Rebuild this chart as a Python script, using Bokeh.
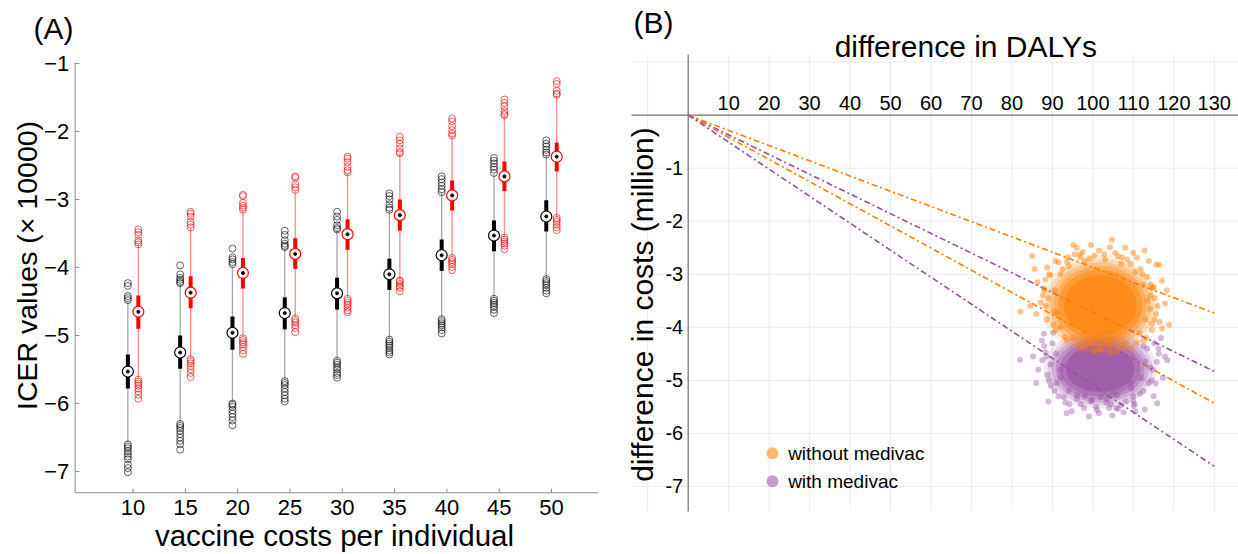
import numpy as np
from bokeh.plotting import figure
from bokeh.models import Range1d, Label
from bokeh.layouts import row
from bokeh.embed import file_html
from bokeh.resources import INLINE
from bokeh.core.properties import value

FONT = "Liberation Sans"

# ---------------- Panel A data (ICER values, x 10000) ----------------
costs = [10, 15, 20, 25, 30, 35, 40, 45, 50]

blk_med = [-5.53, -5.25, -4.96, -4.67, -4.38, -4.10, -3.82, -3.53, -3.25]
blk_q3 = [-5.28, -5.00, -4.72, -4.44, -4.15, -3.87, -3.59, -3.31, -3.01]
blk_q1 = [-5.78, -5.49, -5.21, -4.91, -4.62, -4.33, -4.05, -3.76, -3.47]
blk_whi = [-4.50, -4.25, -3.98, -3.73, -3.45, -3.17, -2.90, -2.62, -2.35]
blk_wlo = [-6.57, -6.28, -5.98, -5.65, -5.35, -5.04, -4.74, -4.45, -4.16]
blk_out_hi = [
    [-4.23, -4.27, -4.42, -4.45, -4.48],
    [-3.97, -4.10, -4.15, -4.18, -4.21, -4.23],
    [-3.72, -3.85, -3.88, -3.92, -3.95],
    [-3.46, -3.52, -3.60, -3.65, -3.68, -3.70],
    [-3.18, -3.25, -3.30, -3.38, -3.42, -3.44],
    [-2.91, -2.95, -3.00, -3.07, -3.12, -3.15],
    [-2.66, -2.70, -2.75, -2.80, -2.85, -2.89],
    [-2.39, -2.43, -2.47, -2.52, -2.56, -2.61],
    [-2.13, -2.18, -2.22, -2.27, -2.31, -2.34],
]
blk_out_lo = [
    [-6.60, -6.63, -6.66, -6.70, -6.74, -6.78, -6.82, -6.90, -6.95, -7.01],
    [-6.30, -6.33, -6.36, -6.40, -6.45, -6.50, -6.55, -6.60, -6.68],
    [-6.00, -6.02, -6.05, -6.10, -6.15, -6.20, -6.25, -6.32],
    [-5.67, -5.70, -5.73, -5.78, -5.83, -5.88, -5.93, -5.97],
    [-5.37, -5.40, -5.43, -5.47, -5.50, -5.55, -5.58, -5.62],
    [-5.06, -5.09, -5.12, -5.15, -5.18, -5.22, -5.25, -5.28],
    [-4.76, -4.79, -4.82, -4.85, -4.88, -4.92, -4.97],
    [-4.46, -4.49, -4.52, -4.55, -4.58, -4.62, -4.67],
    [-4.17, -4.20, -4.23, -4.26, -4.30, -4.34, -4.38],
]

red_med = [-4.65, -4.37, -4.08, -3.80, -3.51, -3.23, -2.94, -2.66, -2.37]
red_q3 = [-4.41, -4.13, -3.86, -3.57, -3.29, -3.00, -2.72, -2.44, -2.16]
red_q1 = [-4.90, -4.60, -4.31, -4.02, -3.74, -3.46, -3.16, -2.88, -2.59]
red_whi = [-3.66, -3.42, -3.16, -2.88, -2.61, -2.33, -2.07, -1.76, -1.47]
red_wlo = [-5.62, -5.33, -5.02, -4.73, -4.44, -4.18, -3.85, -3.55, -3.26]
red_out_hi = [
    [-3.44, -3.48, -3.52, -3.60, -3.63, -3.66],
    [-3.18, -3.21, -3.25, -3.33, -3.37, -3.41],
    [-2.93, -2.95, -3.05, -3.09, -3.12, -3.15],
    [-2.66, -2.68, -2.78, -2.82, -2.86],
    [-2.37, -2.40, -2.45, -2.52, -2.57, -2.60],
    [-2.08, -2.13, -2.18, -2.25, -2.30, -2.32],
    [-1.81, -1.85, -1.92, -1.98, -2.03, -2.06],
    [-1.53, -1.58, -1.63, -1.70, -1.74, -1.76],
    [-1.26, -1.30, -1.40, -1.44, -1.46],
]
red_out_lo = [
    [-5.65, -5.68, -5.71, -5.74, -5.78, -5.82, -5.87, -5.93],
    [-5.35, -5.38, -5.41, -5.45, -5.50, -5.55, -5.61],
    [-5.04, -5.07, -5.10, -5.13, -5.17, -5.22, -5.27],
    [-4.75, -4.78, -4.81, -4.85, -4.89, -4.95],
    [-4.46, -4.49, -4.52, -4.55, -4.59, -4.63, -4.66],
    [-4.19, -4.21, -4.24, -4.27, -4.30, -4.35],
    [-3.86, -3.89, -3.92, -3.95, -3.99, -4.04],
    [-3.56, -3.59, -3.62, -3.65, -3.68, -3.73],
    [-3.27, -3.30, -3.33, -3.37, -3.41, -3.45],
]
icer_ticks = [-7, -6, -5, -4, -3, -2, -1]
icer_axis_x = 4.46        # where the y axis crosses (vaccine cost)
icer_axis_y = -7.313      # where the x axis crosses (ICER)
icer_x_lim = [4.46, 54.46]
icer_y_lim = [-7.313, -0.985]

# ---------------- Panel B data ----------------
daly_ticks = [10, 20, 30, 40, 50, 60, 70, 80, 90, 100, 110, 120, 130]
cost_ticks = [-1, -2, -3, -4, -5, -6, -7]
grid_x = [-10, 10, 20, 30, 40, 50, 60, 70, 80, 90, 100, 110, 120, 130]
grid_y = [1, -1, -2, -3, -4, -5, -6, -7]
daly_lim = [-14.01, 135.9]
cost_lim = [-7.471, 1.143]
line_end_daly = 130
line_end_cost = [-3.73, -4.83, -5.43, -6.62]
line_group = ["without", "with", "without", "with"]

# dense cores of the two clouds (centre, widths, heights of density levels)
orange_core_x, orange_core_y = 101.8, -3.58
orange_core_w = [29.0, 27.0, 25.0, 23.0, 21.0, 18.0]
orange_core_h = [1.90, 1.76, 1.62, 1.48, 1.33, 1.12]
purple_core_x, purple_core_y = 101.8, -4.78
purple_core_w = [28.0, 26.0, 24.0, 22.0, 20.0, 17.0]
purple_core_h = [1.50, 1.39, 1.28, 1.16, 1.04, 0.88]
core_alpha = [0.12, 0.18, 0.24, 0.32, 0.42, 0.55]

# scattered points at the edges of the clouds
orange_x = [85.0, 82.1, 104.2, 96.9, 100.4, 110.9, 115.7, 117.1, 114.2, 117.1, 87.9, 87.1, 89.5, 93.6,
            107.2, 113.4, 114.6, 91.2, 88.7, 114.2, 116.4, 90.5, 92.0, 94.0, 98.0, 103.0, 107.0, 110.5,
            112.5, 113.5, 113.0, 111.5, 108.0, 104.0, 99.0, 95.0, 92.0, 90.5, 89.0, 115.0,
            92.5, 95.5, 97.5, 101.5, 105.5, 108.5, 111.8, 114.8, 116.0, 115.3, 112.5, 109.5, 106.0, 102.0,
            97.5, 93.5, 90.8, 88.6, 87.6, 88.3, 91.5, 99.5, 110.0, 113.8, 116.5, 86.3, 84.5, 118.3, 96.0, 104.7,
            89.2, 90.8, 93.8, 96.8, 99.2, 102.8, 106.2, 109.3, 112.2, 114.3, 115.2, 115.6, 114.6, 113.2,
            110.8, 107.5, 104.3, 100.5, 96.5, 93.0, 90.3, 88.4, 88.0, 86.0, 117.8, 95.2, 108.0, 112.8,
            85.6, 118.8]
orange_y = [-2.65, -3.70, -2.49, -2.68, -2.65, -2.69, -2.82, -3.12, -3.65, -4.02, -3.27, -3.53, -3.02, -2.77,
            -2.68, -3.05, -3.93, -3.74, -2.87, -3.40, -2.82, -3.30, -3.00, -2.85, -2.75, -2.72, -2.80, -2.95,
            -3.20, -3.50, -3.85, -4.10, -4.30, -4.35, -4.30, -4.20, -4.00, -3.70, -3.45, -3.25,
            -2.90, -2.62, -2.58, -2.55, -2.60, -2.72, -2.90, -3.25, -3.60, -3.85, -4.25, -4.40, -4.45, -4.42,
            -4.38, -4.25, -4.05, -3.85, -3.40, -3.10, -2.78, -2.45, -2.60, -2.75, -3.90, -3.15, -3.60, -3.30,
            -2.50, -2.35,
            -3.00, -2.75, -2.68, -2.62, -2.70, -2.62, -2.66, -2.80, -3.00, -3.20, -3.45, -3.75, -4.05, -4.20,
            -4.30, -4.38, -4.48, -4.45, -4.33, -4.18, -3.95, -3.60, -3.30, -3.75, -3.55, -2.45, -2.50, -2.55,
            -2.90, -3.95]
purple_x = [82.0, 85.2, 87.9, 88.3, 89.1, 92.0, 92.8, 99.8, 106.2, 110.3, 115.9, 115.5, 114.2, 113.4,
            96.1, 103.5, 87.5, 99.4, 105.7, 110.1, 103.3, 118.4, 116.3, 90.0, 89.5, 91.0, 94.0, 98.0,
            102.0, 106.0, 109.5, 112.0, 113.0, 112.5, 91.0, 110.0, 96.0,
            90.2, 88.8, 90.5, 93.2, 97.0, 100.8, 104.5, 108.2, 111.6, 113.8, 114.8, 115.2, 86.5, 117.3,
            94.8, 101.5, 107.6, 112.8, 88.0, 116.8, 98.6, 105.2, 109.3, 92.0,
            88.5, 89.6, 91.5, 94.2, 97.8, 101.0, 104.0, 106.9, 109.9, 112.4, 114.5, 115.8, 116.2, 87.4,
            86.0, 117.8, 93.5, 99.0, 104.8, 110.5, 115.0, 89.0]
purple_y = [-4.61, -4.55, -4.12, -4.47, -5.00, -4.94, -5.32, -5.38, -5.54, -5.44, -5.43, -5.06, -4.75, -4.40,
            -5.28, -5.35, -4.62, -5.39, -5.52, -5.48, -5.42, -4.62, -4.50, -4.30, -4.70, -5.05, -5.20, -5.30,
            -5.32, -5.28, -5.15, -4.95, -4.65, -4.35, -4.50, -5.30, -5.35,
            -4.10, -4.90, -5.20, -5.42, -5.45, -5.50, -5.45, -5.40, -5.25, -5.05, -4.80, -4.30, -4.80, -4.95,
            -5.58, -5.62, -5.60, -5.55, -4.35, -4.20, -5.15, -5.25, -5.05, -4.80,
            -4.55, -5.10, -5.30, -5.45, -5.52, -5.56, -5.52, -5.47, -5.38, -5.20, -5.00, -4.65, -4.40, -4.25,
            -5.05, -4.55, -5.62, -5.68, -5.66, -5.58, -5.30, -5.40]
legend_labels = ["without medivac", "with medivac"]

ORANGE = "#FF7F00"
PURPLE = "#984EA3"
AXIS_A = "#8c8c8c"

# ======================= Panel A =======================
pA = figure(width=618, height=554, output_backend="svg", toolbar_location=None,
            x_axis_type=None, y_axis_type=None,
            x_range=Range1d(-2.677, 56.405), y_range=Range1d(-8.2206, -0.0735),
            min_border=0, min_border_left=0, min_border_right=0, min_border_top=0, min_border_bottom=0)
pA.outline_line_color = None

# axes of panel A (lines, inward ticks, labels)
pA.segment(x0=[icer_axis_x], y0=[icer_y_lim[0]], x1=[icer_axis_x], y1=[icer_y_lim[1]],
           line_color=AXIS_A, line_width=1)
pA.segment(x0=[icer_x_lim[0]], y0=[icer_axis_y], x1=[icer_x_lim[1]], y1=[icer_axis_y],
           line_color=AXIS_A, line_width=1)
pA.segment(x0=[icer_axis_x] * len(icer_ticks), y0=icer_ticks,
           x1=[icer_axis_x + 0.40] * len(icer_ticks), y1=icer_ticks, line_color=AXIS_A, line_width=1)
pA.segment(x0=costs, y0=[icer_axis_y] * len(costs), x1=costs, y1=[icer_axis_y + 0.062] * len(costs),
           line_color=AXIS_A, line_width=1)
pA.text(x=[icer_axis_x] * len(icer_ticks), y=icer_ticks,
        text=["\u2212%d" % abs(t) for t in icer_ticks],
        text_font=value(FONT), text_font_size="22px", text_color="black",
        text_align="right", text_baseline="middle", x_offset=-6)
pA.text(x=costs, y=[icer_axis_y - 0.22] * len(costs), text=[str(c) for c in costs],
        text_font=value(FONT), text_font_size="22px", text_color="black",
        text_align="center", text_baseline="middle")


def add_group(p, xs, med, q1, q3, wlo, whi, out_hi, out_lo, whisk_col, box_col, out_col, ring_col):
    p.segment(x0=xs, y0=wlo, x1=xs, y1=whi, line_color=whisk_col, line_width=1.3)
    p.segment(x0=xs, y0=q1, x1=xs, y1=q3, line_color=box_col, line_width=4)
    ox, oy = [], []
    for x, hi, lo in zip(xs, out_hi, out_lo):
        for v in hi + lo:
            ox.append(x)
            oy.append(v)
    p.scatter(ox, oy, marker="circle", size=7, fill_color=None, line_color=out_col,
              line_alpha=0.6, line_width=1)
    p.scatter(xs, med, marker="circle", size=11, fill_color="white", line_color=ring_col, line_width=1.2)
    p.scatter(xs, med, marker="circle", size=3, fill_color="black", line_color="black")


blk_x = [c - 0.5 for c in costs]
red_x = [c + 0.5 for c in costs]
add_group(pA, blk_x, blk_med, blk_q1, blk_q3, blk_wlo, blk_whi, blk_out_hi, blk_out_lo,
          "#a6a6a6", "black", "black", "black")
add_group(pA, red_x, red_med, red_q1, red_q3, red_wlo, red_whi, red_out_hi, red_out_lo,
          "#ff8c8c", "#ff0000", "#ff0000", "#ff0000")

pA.add_layout(Label(x=0.48, y=-0.478, text="(A)", text_font=FONT, text_font_size="30px",
                    text_color="black", text_align="left", text_baseline="middle"))
pA.add_layout(Label(x=-0.12, y=-3.97, text="ICER values (\u00d7 10000)", text_font=FONT,
                    text_font_size="28.5px", text_color="black", angle=np.pi / 2,
                    text_align="center", text_baseline="middle"))
pA.add_layout(Label(x=29.25, y=-7.938, text="vaccine costs per individual", text_font=FONT,
                    text_font_size="29.5px", text_color="black",
                    text_align="center", text_baseline="middle"))

# ======================= Panel B =======================
pB = figure(width=620, height=554, output_backend="svg", toolbar_location=None,
            x_axis_type=None, y_axis_type=None,
            x_range=Range1d(-17.22, 135.98), y_range=Range1d(-8.282, 2.161),
            min_border=0, min_border_left=0, min_border_right=0, min_border_top=0, min_border_bottom=0)
pB.outline_line_color = None

# grid
pB.segment(x0=grid_x, y0=[cost_lim[0]] * len(grid_x), x1=grid_x, y1=[cost_lim[1]] * len(grid_x),
           line_color="#ececec", line_width=1)
pB.segment(x0=[daly_lim[0]] * len(grid_y), y0=grid_y, x1=[daly_lim[1]] * len(grid_y), y1=grid_y,
           line_color="#ececec", line_width=1)
# crossing axes
pB.segment(x0=[0], y0=[cost_lim[0]], x1=[0], y1=[cost_lim[1]], line_color="#707070", line_width=1.2)
pB.segment(x0=[daly_lim[0]], y0=[0], x1=[daly_lim[1]], y1=[0], line_color="#707070", line_width=1.2)

for end, grp in zip(line_end_cost, line_group):
    col = ORANGE if grp == "without" else PURPLE
    pB.line([0, line_end_daly], [0, end], line_color=col, line_width=1.6, line_dash="6 3 2 3")

# purple cloud (with medivac) under the orange cloud
for w, h, a in zip(purple_core_w, purple_core_h, core_alpha):
    pB.ellipse(x=[purple_core_x], y=[purple_core_y], width=[w], height=[h],
               fill_color=PURPLE, fill_alpha=a, line_color=None)
pB.scatter(purple_x, purple_y, marker="circle", size=6, fill_color=PURPLE, fill_alpha=0.4, line_color=None)
for w, h, a in zip(orange_core_w, orange_core_h, core_alpha):
    pB.ellipse(x=[orange_core_x], y=[orange_core_y], width=[w], height=[h],
               fill_color=ORANGE, fill_alpha=a, line_color=None)
pB.scatter(orange_x, orange_y, marker="circle", size=6, fill_color=ORANGE, fill_alpha=0.45, line_color=None)

# tick labels of the crossing axes
pB.text(x=daly_ticks, y=[0.226] * len(daly_ticks), text=[str(t) for t in daly_ticks],
        text_font=value(FONT), text_font_size="20px", text_color="black",
        text_align="center", text_baseline="middle")
pB.text(x=[-1.24] * len(cost_ticks), y=cost_ticks, text=[str(t) for t in cost_ticks],
        text_font=value(FONT), text_font_size="20px", text_color="black",
        text_align="right", text_baseline="middle")

# legend
leg_y = [-6.372, -6.900]
pB.scatter([20.83, 20.83], leg_y, marker="circle", size=12, fill_color=[ORANGE, PURPLE],
           fill_alpha=0.55, line_color=None)
pB.text(x=[24.7, 24.7], y=leg_y, text=legend_labels, text_font=value(FONT), text_font_size="19px",
        text_color="black", text_align="left", text_baseline="middle")

pB.add_layout(Label(x=-13.5, y=1.737, text="(B)", text_font=FONT, text_font_size="30px",
                    text_color="black", text_align="left", text_baseline="middle"))
pB.add_layout(Label(x=68.6, y=1.285, text="difference in DALYs", text_font=FONT,
                    text_font_size="30px", text_color="black",
                    text_align="center", text_baseline="middle"))
pB.add_layout(Label(x=-11.17, y=-3.57, text="difference in costs (million)", text_font=FONT,
                    text_font_size="30px", text_color="black", angle=np.pi / 2,
                    text_align="center", text_baseline="middle"))

layout = row(pA, pB)
open("out.html", "w").write(file_html(layout, INLINE))
